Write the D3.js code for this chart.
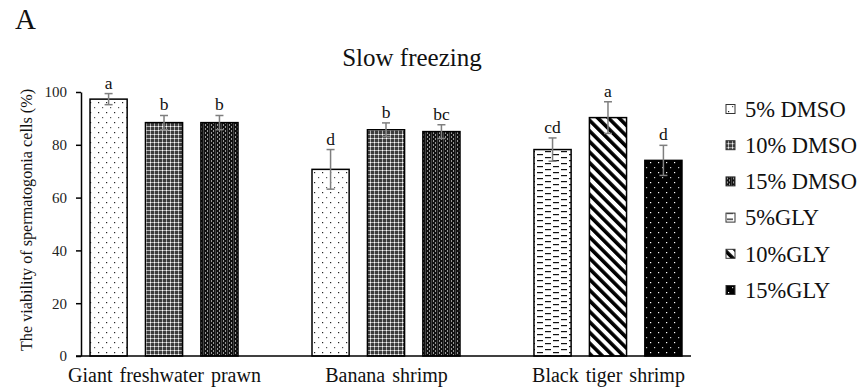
<!DOCTYPE html>
<html>
<head>
<meta charset="utf-8">
<script src="https://cdn.jsdelivr.net/npm/d3@7/dist/d3.min.js"></script>
<style>
  html, body { margin: 0; padding: 0; background: #fff; }
  svg { display: block; font-family: "Liberation Serif", "Times New Roman", serif; }
</style>
</head>
<body>
<svg id="chart" width="867" height="389"></svg>
<script>
// ---- data ----
const categories = ["Giant freshwater prawn", "Banana shrimp", "Black tiger shrimp"];
const seriesNames = ["5% DMSO", "10% DMSO", "15% DMSO", "5%GLY", "10%GLY", "15%GLY"];
const dmso5  = [97.3, 70.7, null];
const dmso10 = [88.4, 85.7, null];
const dmso15 = [88.4, 85.0, null];
const gly5   = [null, null, 78.2];
const gly10  = [null, null, 90.3];
const gly15  = [null, null, 74.1];
const err5d  = [2.1, 7.5, null];
const err10d = [2.7, 2.6, null];
const err15d = [2.7, 2.6, null];
const err5g  = [null, null, 4.4];
const err10g = [null, null, 6.0];
const err15g = [null, null, 5.7];
const let5d  = ["a", "d", null];
const let10d = ["b", "b", null];
const let15d = ["b", "bc", null];
const let5g  = [null, null, "cd"];
const let10g = [null, null, "a"];
const let15g = [null, null, "d"];
const yTicks = [0, 20, 40, 60, 80, 100];

const seriesValues = [dmso5, dmso10, dmso15, gly5, gly10, gly15];
const seriesErrors = [err5d, err10d, err15d, err5g, err10g, err15g];
const seriesLetters = [let5d, let10d, let15d, let5g, let10g, let15g];

const svg = d3.select("#chart");
const defs = svg.append("defs");

// ---- patterns ----
function pat(id, w, h, build, transform) {
  const p = defs.append("pattern").attr("id", id).attr("patternUnits", "userSpaceOnUse")
    .attr("width", w).attr("height", h);
  if (transform) p.attr("patternTransform", transform);
  build(p);
}
pat("p0", 8, 10, p => {
  p.append("rect").attr("width", 8).attr("height", 10).attr("fill", "#fff");
  p.append("rect").attr("x", 2).attr("y", 2).attr("width", 1.2).attr("height", 1.2).attr("fill", "#222");
  p.append("rect").attr("x", 6).attr("y", 7).attr("width", 1.2).attr("height", 1.2).attr("fill", "#555");
});
pat("p1", 4, 4, p => {
  p.append("rect").attr("width", 4).attr("height", 4).attr("fill", "#3c3c3c");
  p.append("rect").attr("x", 2).attr("y", 0).attr("width", 1).attr("height", 4).attr("fill", "#b0b0b0");
  p.append("rect").attr("x", 0).attr("y", 2).attr("width", 4).attr("height", 1).attr("fill", "#b0b0b0");
  p.append("rect").attr("x", 2).attr("y", 2).attr("width", 1).attr("height", 1).attr("fill", "#fff");
});
pat("p2", 6, 4, p => {
  p.append("rect").attr("width", 6).attr("height", 4).attr("fill", "#111");
  p.append("rect").attr("x", 1).attr("y", 0).attr("width", 1).attr("height", 2).attr("fill", "#9a9a9a");
  p.append("rect").attr("x", 3).attr("y", 2).attr("width", 1).attr("height", 2).attr("fill", "#9a9a9a");
  p.append("rect").attr("x", 5).attr("y", 0).attr("width", 1).attr("height", 4).attr("fill", "#444");
});
pat("p3", 16, 6, p => {
  p.append("rect").attr("width", 16).attr("height", 6).attr("fill", "#fff");
  p.append("rect").attr("x", 1).attr("y", 1).attr("width", 6).attr("height", 1.2).attr("fill", "#111");
  p.append("rect").attr("x", 9).attr("y", 4).attr("width", 6).attr("height", 1.2).attr("fill", "#111");
});
pat("p4", 7.5, 7.5, p => {
  p.append("rect").attr("width", 7.5).attr("height", 7.5).attr("fill", "#fff");
  p.append("rect").attr("x", 0).attr("y", 0).attr("width", 3.6).attr("height", 7.5).attr("fill", "#000");
}, "rotate(-45)");
pat("p5", 8, 10, p => {
  p.append("rect").attr("width", 8).attr("height", 10).attr("fill", "#000");
  p.append("rect").attr("x", 2).attr("y", 2).attr("width", 1.2).attr("height", 1.2).attr("fill", "#fff");
  p.append("rect").attr("x", 6).attr("y", 7).attr("width", 1.2).attr("height", 1.2).attr("fill", "#ccc");
});
const fills = seriesNames.map((s, i) => "url(#p" + i + ")");

// ---- scales ----
const x = d3.scalePoint().domain(categories).range([81, 691]).padding(0.374);
const slot = d3.scaleBand().domain([0, 1, 2]).range([-74, 74]).paddingInner(0.33);
const y = d3.scaleLinear().domain([0, 100]).range([356, 92]);

// ---- bars ----
const bars = [];
categories.forEach((c, ci) => {
  let k = 0;
  seriesNames.forEach((s, si) => {
    const v = seriesValues[si][ci];
    if (v == null) return;
    bars.push({ c, si, slot: k++, v, e: seriesErrors[si][ci], l: seriesLetters[si][ci] });
  });
});

const g = svg.append("g");
g.selectAll("rect.bar").data(bars).join("rect").attr("class", "bar")
  .attr("x", d => x(d.c) + slot(d.slot))
  .attr("y", d => y(d.v))
  .attr("width", slot.bandwidth())
  .attr("height", d => y(0) - y(d.v))
  .attr("fill", d => fills[d.si])
  .attr("stroke", "#000").attr("stroke-width", 1.5);

const cx = d => x(d.c) + slot(d.slot) + slot.bandwidth() / 2;
const eg = g.selectAll("g.err").data(bars).join("g").attr("class", "err")
  .attr("stroke", "#7f7f7f").attr("stroke-width", 1.5);
eg.append("line").attr("x1", cx).attr("x2", cx).attr("y1", d => y(d.v + d.e)).attr("y2", d => y(d.v - d.e));
eg.append("line").attr("x1", d => cx(d) - 4).attr("x2", d => cx(d) + 4).attr("y1", d => y(d.v + d.e)).attr("y2", d => y(d.v + d.e));
eg.append("line").attr("x1", d => cx(d) - 4).attr("x2", d => cx(d) + 4).attr("y1", d => y(d.v - d.e)).attr("y2", d => y(d.v - d.e));

g.selectAll("text.lab").data(bars).join("text").attr("class", "lab")
  .attr("x", cx).attr("y", d => y(d.v + d.e) - 5)
  .attr("text-anchor", "middle").attr("font-size", 17.5).attr("fill", "#111")
  .text(d => d.l);

// ---- axes ----
const yAxis = d3.axisLeft(y).tickValues(yTicks).tickSize(5).tickSizeOuter(0).tickPadding(9);
const ya = svg.append("g").attr("transform", "translate(81,0)").call(yAxis);
ya.select(".domain").attr("stroke", "#000").attr("stroke-width", 1.5);
ya.selectAll(".tick line").attr("stroke", "#000").attr("stroke-width", 1.5);
ya.selectAll(".tick text").attr("font-size", 15).attr("font-family", "Liberation Serif, serif").attr("fill", "#222");

const xAxis = d3.axisBottom(x).tickSize(0).tickSizeOuter(0).tickPadding(12);
const xa = svg.append("g").attr("transform", "translate(0," + y(0) + ")").call(xAxis);
xa.select(".domain").remove();
xa.selectAll(".tick text").attr("font-size", 20).attr("font-family", "Liberation Serif, serif")
  .attr("word-spacing", 2).attr("fill", "#111");
svg.append("line").attr("x1", x.range()[0] - 5).attr("x2", x.range()[1]).attr("y1", y(0)).attr("y2", y(0))
  .attr("stroke", "#000").attr("stroke-width", 1.5);

// y title
svg.append("text").attr("transform", "translate(32,220) rotate(-90)")
  .attr("text-anchor", "middle").attr("font-size", 16.2).attr("fill", "#111")
  .text("The viability of spermatogonia cells (%)");

// title & panel letter
svg.append("text").attr("x", 412).attr("y", 66).attr("text-anchor", "middle")
  .attr("font-size", 25).attr("fill", "#111").text("Slow freezing");
svg.append("text").attr("x", 15).attr("y", 29).attr("font-size", 29).attr("fill", "#111").text("A");

// ---- legend ----
const lg = svg.append("g").selectAll("g").data(seriesNames).join("g")
  .attr("transform", (d, i) => "translate(726," + (109 + i * 36.2) + ")");
lg.append("rect").attr("x", 0).attr("y", -4.5).attr("width", 9).attr("height", 9)
  .attr("fill", (d, i) => fills[i]).attr("stroke", "#333").attr("stroke-width", 1);
lg.append("text").attr("x", 19).attr("y", 0).attr("dy", "0.35em")
  .attr("font-size", 22.5).attr("fill", "#111").text(d => d);
</script>
</body>
</html>
